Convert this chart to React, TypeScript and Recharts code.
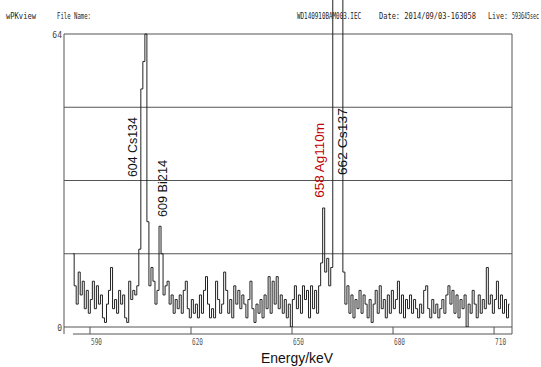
import { ComposedChart, Line, XAxis, YAxis, ReferenceLine, ReferenceDot } from 'recharts';

// spectrum channels: first channel energy and width (keV)
const startEnergy = 585;
const channelWidth = 0.6;

// counts per channel
const counts = [
  16, 9, 5, 12, 7, 10, 4, 8, 3, 6, 10, 4, 9, 5, 7, 2, 1, 5, 8, 13,
  4, 6, 3, 8, 5, 7, 2, 1, 10, 6, 8, 7, 9,
  // Cs134 / Bi214
  17, 52, 58, 64, 23, 9, 13, 10, 5, 8, 22, 16, 7,
  9, 10, 5, 7, 3, 6, 4, 7, 3, 8, 10, 4, 2, 6, 3, 5, 2, 7, 3, 8,
  11, 5, 2, 4, 2, 10, 6, 3, 5, 12, 8, 3, 6, 2, 9, 5, 8, 4, 7, 5,
  2, 6, 10, 4, 1, 5, 3, 6, 2, 7, 4, 11, 3, 10, 5, 11, 4, 7, 3, 6,
  2, 5, 0, 6, 9, 4, 7, 3, 9, 6, 8, 2, 9, 4, 8, 3, 9,
  // Ag110m / Cs137
  14, 26, 12, 15, 9, 13, 120, 120, 120, 120, 120, 12,
  5, 9, 3, 7, 2, 6, 4, 8, 3, 7, 5, 2, 6, 1, 5, 8, 3, 9, 4, 6,
  2, 7, 3, 8, 4, 6, 10, 3, 7, 2, 6, 4, 7, 3, 6, 4, 2, 5, 3, 8,
  9, 4, 2, 6, 3, 5, 2, 4, 6, 3, 7, 9, 5, 8, 3, 7, 2, 6, 4, 7,
  0, 5, 3, 8, 5, 2, 7, 3, 6, 4, 13, 5, 7, 3, 6, 10, 4, 7, 3, 6,
  2, 5,
];

const xTicks = [590, 620, 650, 680, 710];
const yTicks = [0, 64];
const gridLevels = [0, 16, 32, 48, 64];

const peakNames = ['604 Cs134', '609 Bi214', '658 Ag110m', '662 Cs137'];
const peakEnergies = [602.6, 611.4, 658.3, 664.85];
const peakCounts = [39.3, 30.25, 36.4, 40.5];
const peakColors = ['#111', '#111', '#c00000', '#111'];
const peakLengths = [60, 57, 75, 67];

const xMin = 582.28;
const xMax = 715.33;
const yMax = 71.43;
const axisLevel = -1.53;
const axisStart = 584.95;

const data = counts.map((c, i) => ({
  energy: +(startEnergy + i * channelWidth).toFixed(2),
  counts: c,
}));

const frame = '#555';

const XTick = ({ x, payload }: any) => (
  <g>
    <line x1={x} x2={x} y1={327} y2={334} stroke={frame} />
    <text x={x + 1} y={345} fontSize={8} fontFamily="DejaVu Sans Mono" fill="#555" textLength={11} lengthAdjust="spacingAndGlyphs">
      {payload.value}
    </text>
  </g>
);

const YTick = ({ y, payload }: any) => (
  <text x={62} y={y + 3.5} fontSize={8} fontFamily="DejaVu Sans Mono" fill="#444" textAnchor="end">
    {payload.value}
  </text>
);

const peakLabel = (i: number) => (props: any) => (
  <text
    x={props.cx}
    y={props.cy}
    transform={`rotate(-90 ${props.cx} ${props.cy})`}
    textAnchor="middle"
    dominantBaseline="central"
    fontSize={13}
    fontFamily="Liberation Sans"
    fill={peakColors[i]}
    textLength={peakLengths[i]}
    lengthAdjust="spacingAndGlyphs"
  >
    {peakNames[i]}
  </text>
);

const header = [
  { t: 'wPKview', x: 6, w: 30 },
  { t: 'File Name:', x: 57, w: 34 },
  { t: 'WD140910BAM003.IEC', x: 297, w: 64 },
  { t: 'Date: 2014/09/03-163058', x: 379, w: 97 },
  { t: 'Live:', x: 488, w: 20 },
  { t: '593645sec', x: 512, w: 27 },
];

export default function App() {
  return (
    <div style={{ position: 'absolute', left: 0, top: 0, width: 541, height: 367, background: '#fff', overflow: 'hidden' }}>
      <ComposedChart width={541} height={367} data={data} margin={{ top: 0, right: 29, bottom: 0, left: 0 }}>
        <XAxis
          dataKey="energy"
          type="number"
          domain={[xMin, xMax]}
          allowDataOverflow
          ticks={xTicks}
          height={40}
          axisLine={false}
          tickLine={false}
          tick={<XTick />}
        />
        <YAxis
          type="number"
          domain={[0, yMax]}
          allowDataOverflow
          ticks={yTicks}
          width={64}
          axisLine={false}
          tickLine={false}
          tick={<YTick />}
        />
        {gridLevels.map((g) => (
          <ReferenceLine key={g} y={g} stroke={frame} strokeWidth={1} />
        ))}
        <ReferenceLine segment={[{ x: xMin, y: 64 }, { x: xMin, y: axisLevel }]} stroke={frame} ifOverflow="visible" />
        <ReferenceLine segment={[{ x: xMax, y: 64 }, { x: xMax, y: axisLevel }]} stroke={frame} ifOverflow="visible" />
        <ReferenceLine segment={[{ x: axisStart, y: axisLevel }, { x: xMax, y: axisLevel }]} stroke={frame} ifOverflow="visible" />
        <Line
          type="step"
          dataKey="counts"
          stroke="#222"
          strokeWidth={1}
          dot={false}
          isAnimationActive={false}
        />
        {peakNames.map((n, i) => (
          <ReferenceDot key={n} x={peakEnergies[i]} y={peakCounts[i]} r={0} shape={peakLabel(i)} />
        ))}
      </ComposedChart>
      <svg width={541} height={367} style={{ position: 'absolute', left: 0, top: 0, pointerEvents: 'none' }}>
        {header.map((h) => (
          <text key={h.t} x={h.x} y={19} fontSize={8} fontFamily="DejaVu Sans Mono" fill="#222" textLength={h.w} lengthAdjust="spacingAndGlyphs">
            {h.t}
          </text>
        ))}
        <text x={297} y={363} fontSize={15} fontFamily="Liberation Sans" fill="#111" textAnchor="middle" textLength={72} lengthAdjust="spacingAndGlyphs">
          Energy/keV
        </text>
      </svg>
    </div>
  );
}
